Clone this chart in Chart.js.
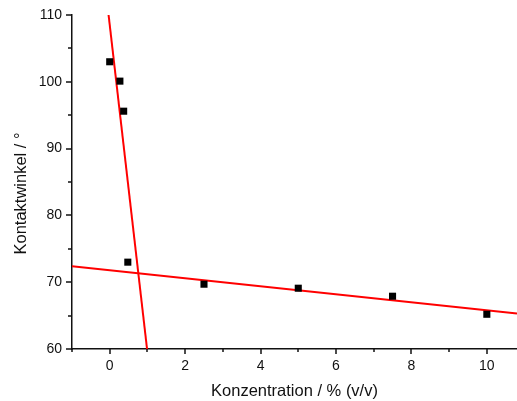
<!DOCTYPE html>
<html>
<head>
<meta charset="utf-8">
<script src="https://cdn.jsdelivr.net/npm/chart.js@4.4.0/dist/chart.umd.min.js"></script>
<style>
  body { margin: 0; background: #fff; }
  canvas { display: block; }
</style>
</head>
<body>
<canvas id="chart" width="517" height="401"></canvas>
<script>
// measured points
const concX = [0, 0.27, 0.37, 0.48, 2.5, 5, 7.5, 10];
const angleY = [103, 100.1, 95.6, 73.0, 69.7, 69.1, 67.9, 65.2];

// linear fits, drawn between their visible ends
const fitSteepX = [-0.03, 0.99];
const fitSteepY = [110, 60];
const fitFlatX = [-1, 10.8];
const fitFlatY = [72.4, 65.3];

const xTitle = 'Konzentration / % (v/v)';
// trailing spaces push the rotated title a bit down, as in the original
const yTitle = 'Kontaktwinkel / °     ';

const toPts = (xs, ys) => xs.map((x, i) => ({ x: x, y: ys[i] }));

// outward ticks, major + minor, like the original plot
const tickPlugin = {
  id: 'outTicks',
  afterDraw(chart) {
    const ctx = chart.ctx;
    const xs = chart.scales.x, ys = chart.scales.y;
    ctx.save();
    ctx.strokeStyle = '#111';
    ctx.lineWidth = 1.5;
    for (let v = -1; v <= 10; v++) {
      const px = Math.round(xs.getPixelForValue(v));
      const len = v % 2 === 0 ? 5 : 3;
      ctx.beginPath();
      ctx.moveTo(px, xs.top);
      ctx.lineTo(px, xs.top + len);
      ctx.stroke();
    }
    for (let v = 60; v <= 110; v += 5) {
      const py = Math.round(ys.getPixelForValue(v));
      const len = v % 10 === 0 ? 6 : 4;
      ctx.beginPath();
      ctx.moveTo(ys.right, py);
      ctx.lineTo(ys.right - len, py);
      ctx.stroke();
    }
    ctx.restore();
  }
};

new Chart(document.getElementById('chart'), {
  type: 'scatter',
  data: {
    datasets: [
      {
        data: toPts(fitSteepX, fitSteepY),
        showLine: true,
        borderColor: '#ff0000',
        borderWidth: 2,
        pointRadius: 0,
        order: 2
      },
      {
        data: toPts(fitFlatX, fitFlatY),
        showLine: true,
        borderColor: '#ff0000',
        borderWidth: 2,
        pointRadius: 0,
        order: 2
      },
      {
        data: toPts(concX, angleY),
        pointStyle: 'rect',
        pointRadius: 5,
        pointBorderWidth: 0,
        backgroundColor: '#000',
        borderColor: '#000',
        order: 1
      }
    ]
  },
  plugins: [tickPlugin],
  options: {
    responsive: false,
    animation: false,
    layout: { autoPadding: false, padding: { top: 15, right: 0, left: 0, bottom: 0 } },
    plugins: {
      legend: { display: false },
      tooltip: { enabled: false }
    },
    scales: {
      x: {
        type: 'linear',
        min: -1,
        max: 10.8,
        afterFit: (s) => { s.height = 52; s.paddingRight = 0; s.paddingLeft = 0; },
        grid: { display: false, drawTicks: false },
        border: { display: true, color: '#111', width: 1.5 },
        ticks: {
          stepSize: 1,
          padding: 9,
          autoSkip: false,
          includeBounds: false,
          maxRotation: 0,
          color: '#111',
          font: { family: 'Liberation Sans', size: 14 },
          callback: (v) => (v >= 0 && v % 2 === 0 ? String(v) : '')
        },
        title: {
          display: true,
          text: xTitle,
          color: '#111',
          font: { family: 'Liberation Sans', size: 16.5 },
          padding: { top: 0, bottom: 0 }
        }
      },
      y: {
        type: 'linear',
        min: 60,
        max: 110,
        afterFit: (s) => { s.width = 72; s.paddingTop = 0; s.paddingBottom = 0; },
        grid: { display: false, drawTicks: false },
        border: { display: true, color: '#111', width: 1.5 },
        ticks: {
          stepSize: 5,
          padding: 10,
          autoSkip: false,
          color: '#111',
          font: { family: 'Liberation Sans', size: 14 },
          callback: (v) => (v % 10 === 0 ? String(v) : '')
        },
        title: {
          display: true,
          text: yTitle,
          color: '#111',
          font: { family: 'Liberation Sans', size: 16.5 },
          padding: { top: 12, bottom: 0 }
        }
      }
    }
  }
});
</script>
</body>
</html>
